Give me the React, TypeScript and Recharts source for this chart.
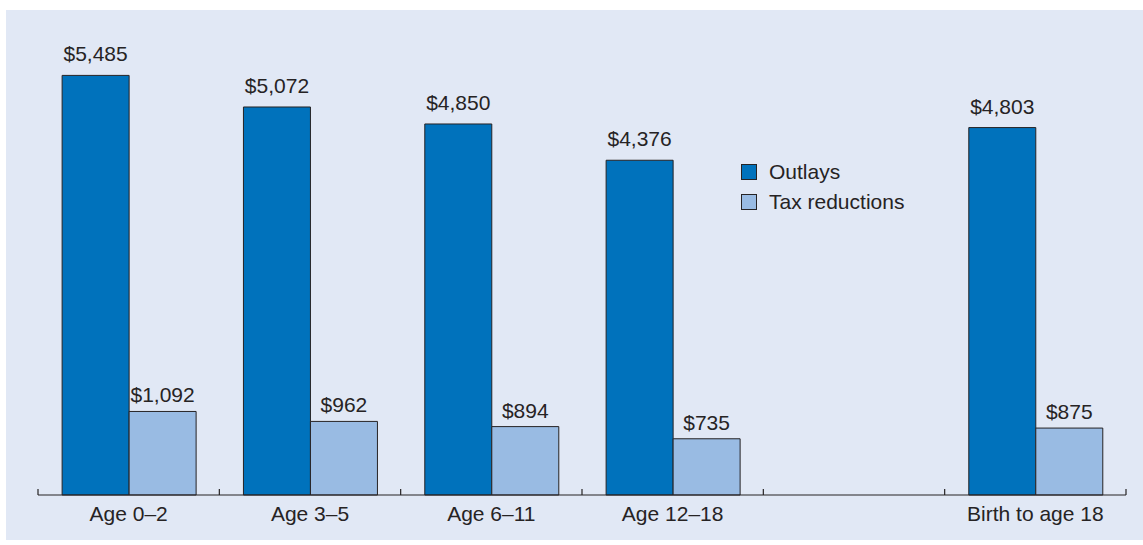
import { BarChart, Bar, XAxis, YAxis, LabelList } from "recharts";

const categories = ["Age 0–2", "Age 3–5", "Age 6–11", "Age 12–18", "", "Birth to age 18"];
const outlays = [5485, 5072, 4850, 4376, null, 4803];
const taxReductions = [1092, 962, 894, 735, null, 875];

const INK = "#262324";
const DARK = "#0072bc";
const LIGHT = "#99bbe3";
const PANEL = "#e1e8f5";
const FONT = "'Liberation Sans', Arial, Helvetica, sans-serif";

const W = 1143;
const H = 545;
const MARGIN = { top: 36, right: 17, bottom: 10, left: 38 };
const BAND = (W - MARGIN.left - MARGIN.right) / categories.length;

const rows = categories.map((name, i) => ({
  name,
  outlays: outlays[i],
  tax: taxReductions[i],
}));

const money = (v: number) => "$" + v.toLocaleString("en-US");

const moneyLabel = (gap: number) => (p: any) => {
  if (p.value == null) return null;
  return (
    <text
      x={p.x + p.width / 2}
      y={p.y - gap}
      textAnchor="middle"
      fontSize={21}
      fontFamily={FONT}
      fill={INK}
    >
      {money(Number(p.value))}
    </text>
  );
};

// category label plus small upward ticks on the band edges
const CategoryTick = (p: any) => {
  const axisY = p.y - 8;
  const left = p.x - BAND / 2;
  const last = p.index === categories.length - 1;
  return (
    <g>
      <line x1={left} x2={left} y1={axisY} y2={axisY - 6} stroke={INK} strokeWidth={1.2} />
      {last && (
        <line x1={left + BAND} x2={left + BAND} y1={axisY} y2={axisY - 6} stroke={INK} strokeWidth={1.2} />
      )}
      <text x={p.x} y={axisY + 26} textAnchor="middle" fontSize={21} fontFamily={FONT} fill={INK}>
        {p.payload.value}
      </text>
    </g>
  );
};

const legendItems = [
  { label: "Outlays", color: DARK },
  { label: "Tax reductions", color: LIGHT },
];

function LegendBox() {
  return (
    <div
      style={{
        position: "absolute",
        left: 741,
        top: 157,
        fontFamily: FONT,
        fontSize: 21,
        color: INK,
      }}
    >
      {legendItems.map((it) => (
        <div key={it.label} style={{ display: "flex", alignItems: "center", height: 30 }}>
          <span
            style={{
              width: 14,
              height: 14,
              background: it.color,
              border: `1px solid ${INK}`,
              marginRight: 12,
              display: "inline-block",
            }}
          />
          <span>{it.label}</span>
        </div>
      ))}
    </div>
  );
}

export default function App() {
  return (
    <div style={{ position: "absolute", left: 0, top: 0, width: W, height: H }}>
      <div
        style={{
          position: "absolute",
          left: 6,
          top: 10,
          width: W - 6,
          height: 530,
          background: PANEL,
        }}
      />
      <div style={{ position: "absolute", left: 0, top: 0 }}>
        <BarChart
          width={W}
          height={H}
          data={rows}
          margin={MARGIN}
          barCategoryGap="13.3%"
          barGap={0}
        >
          <YAxis hide domain={[0, 6000]} />
          <XAxis
            dataKey="name"
            height={40}
            tickLine={false}
            tickSize={6}
            tickMargin={2}
            axisLine={{ stroke: INK, strokeWidth: 1.2 }}
            tick={<CategoryTick />}
            interval={0}
          />
          <Bar dataKey="outlays" fill={DARK} stroke={INK} strokeWidth={1} isAnimationActive={false}>
            <LabelList dataKey="outlays" content={moneyLabel(14)} />
          </Bar>
          <Bar dataKey="tax" fill={LIGHT} stroke={INK} strokeWidth={1} isAnimationActive={false}>
            <LabelList dataKey="tax" content={moneyLabel(9)} />
          </Bar>
        </BarChart>
      </div>
      <LegendBox />
    </div>
  );
}
